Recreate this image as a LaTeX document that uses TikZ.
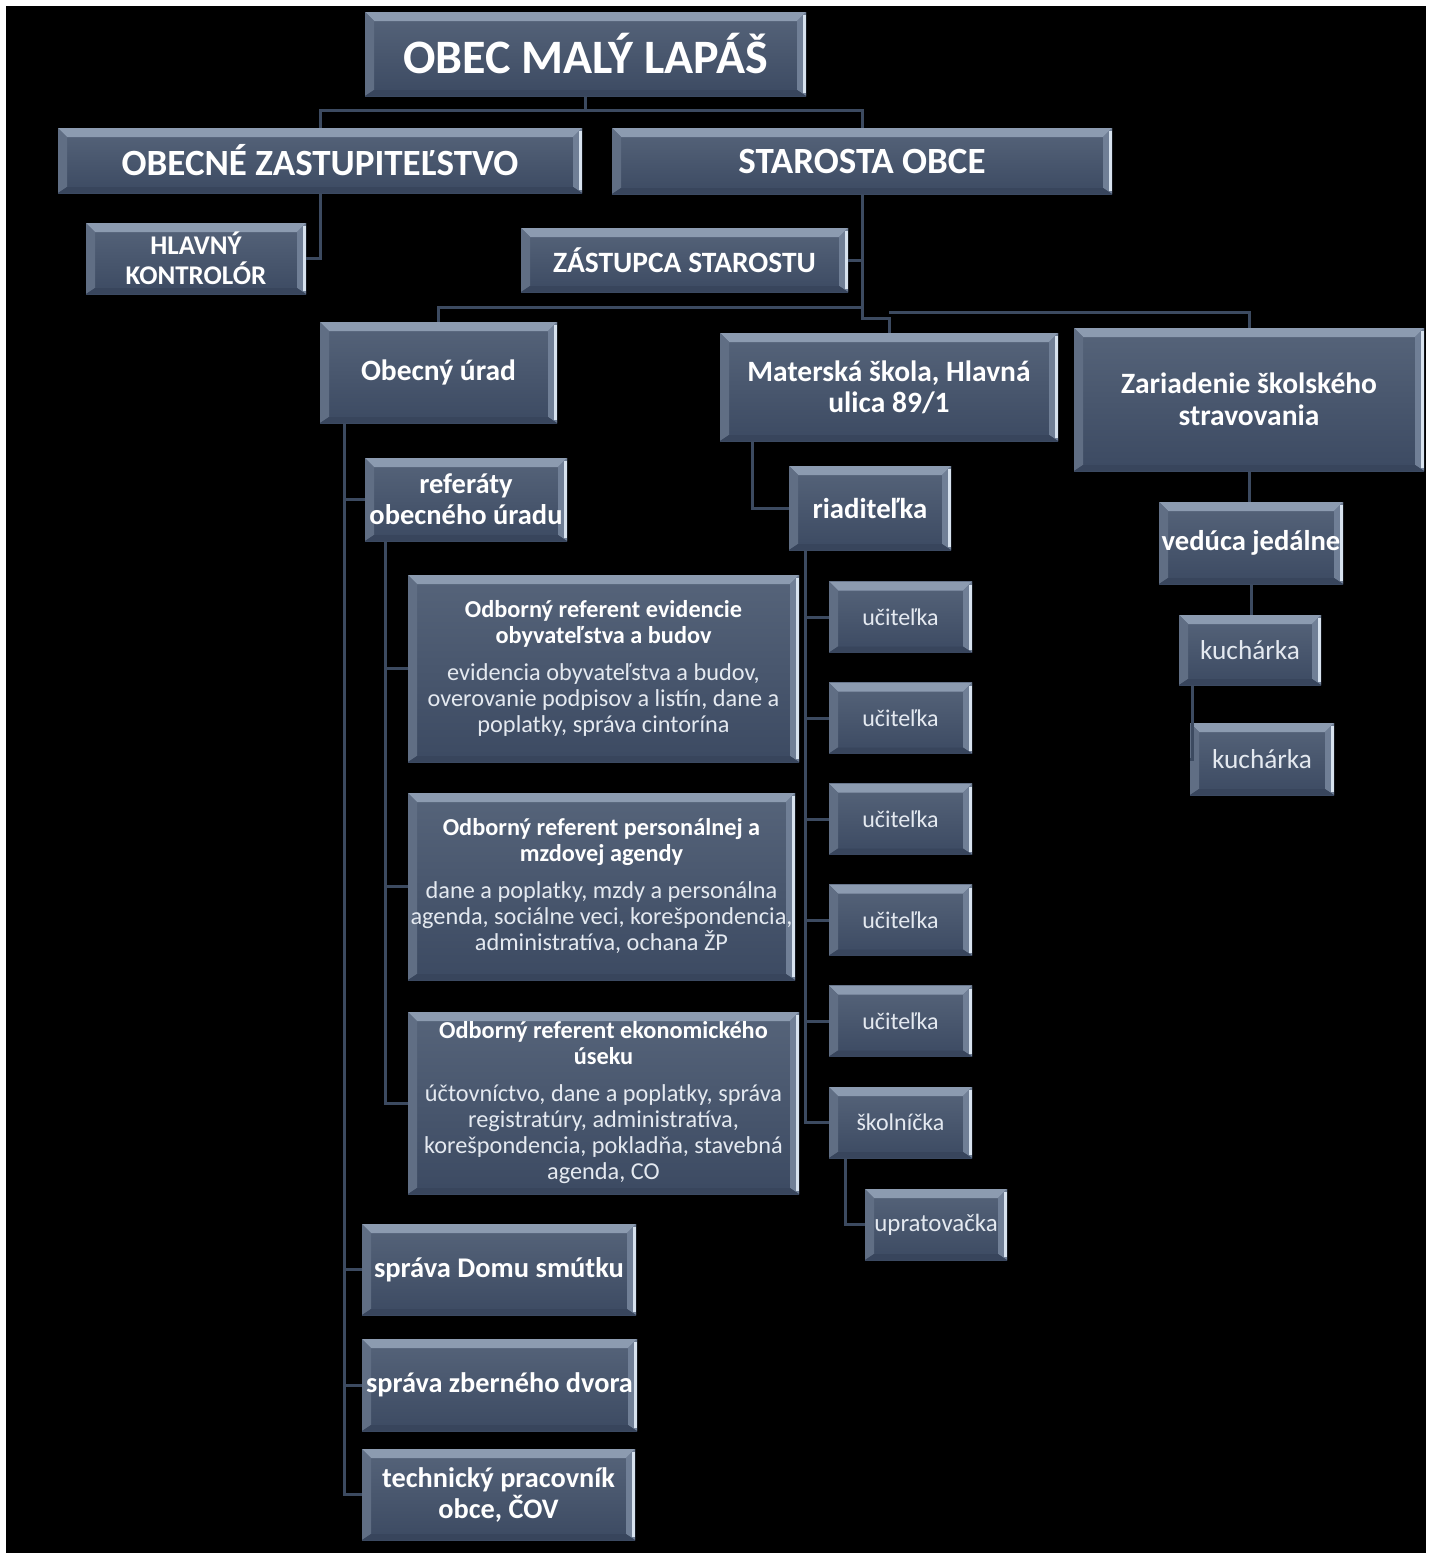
\documentclass[tikz,border=0pt]{standalone}
\usepackage{fontspec}
\setmainfont{Carlito}
\usetikzlibrary{calc}

\definecolor{boxtop}{RGB}{86,100,122}
\definecolor{boxbot}{RGB}{60,74,98}
\definecolor{bevtop}{RGB}{140,155,176}
\definecolor{bevleft}{RGB}{96,110,132}
\definecolor{bevright}{RGB}{112,127,150}
\definecolor{bevbot}{RGB}{56,69,92}
\definecolor{edgelight}{RGB}{215,226,238}
\definecolor{linecol}{RGB}{60,74,96}
\definecolor{softwhite}{RGB}{228,233,240}

\tikzset{
  bevel/.style={path picture={
    \coordinate (bnw) at (path picture bounding box.north west);
    \coordinate (bne) at (path picture bounding box.north east);
    \coordinate (bsw) at (path picture bounding box.south west);
    \coordinate (bse) at (path picture bounding box.south east);
    \fill[bevtop] (bnw) -- (bne) -- ([shift={(-9pt,-9pt)}]bne) -- ([shift={(9pt,-9pt)}]bnw) -- cycle;
    \fill[bevleft] (bnw) -- ([shift={(9pt,-9pt)}]bnw) -- ([shift={(9pt,6pt)}]bsw) -- (bsw) -- cycle;
    \fill[bevright] (bne) -- (bse) -- ([shift={(-9pt,6pt)}]bse) -- ([shift={(-9pt,-9pt)}]bne) -- cycle;
    \fill[bevbot] (bsw) -- ([shift={(9pt,6pt)}]bsw) -- ([shift={(-9pt,6pt)}]bse) -- (bse) -- cycle;
    \draw[edgelight, line width=2.5pt] ([shift={(-1.5pt,-3pt)}]bne) -- ([shift={(-1.5pt,3pt)}]bse);
  }},
  orgbox/.style={inner sep=0pt, align=center, text=white, top color=boxtop, bottom color=boxbot, bevel},
  boldtxt/.style 2 args={font=\bfseries\fontsize{#1}{#2}\selectfont},
  plaintxt/.style 2 args={font=\fontsize{#1}{#2}\selectfont, text=softwhite},
  reftxt/.style={font=\fontsize{24.3}{26}\selectfont},
  conn/.style={draw=linecol, line width=3pt}
}
\newcommand{\refbody}[1]{\textcolor{softwhite}{#1}}

\begin{document}
\begin{tikzpicture}[x=1pt, y=-1pt]
  \useasboundingbox (0,0) rectangle (1435,1553);
  \fill[white] (0,0) rectangle (1435,1553);
  \fill[black] (6,6) rectangle (1426,1553);

  % top levels
  \node[orgbox, boldtxt={48}{57}, minimum width=441pt, minimum height=84pt] (obec) at (585.5,54) {OBEC MALÝ LAPÁŠ};
  \node[orgbox, boldtxt={37}{44}, minimum width=524pt, minimum height=65pt] (zastup) at (320,160.5) {OBECNÉ ZASTUPITEĽSTVO};
  \node[orgbox, boldtxt={37}{44}, minimum width=500pt, minimum height=66pt] (starosta) at (862,161) {STAROSTA OBCE};
  \node[orgbox, boldtxt={27}{30}, minimum width=220pt, minimum height=71pt] (kontrolor) at (196,258.5) {HLAVNÝ\\KONTROLÓR};
  \node[orgbox, boldtxt={29.5}{35}, minimum width=327pt, minimum height=64pt] (zastupca) at (684.5,260) {ZÁSTUPCA STAROSTU};

  % second level
  \node[orgbox, boldtxt={29.5}{31}, minimum width=237pt, minimum height=101pt] (urad) at (438.5,372.5) {Obecný úrad};
  \node[orgbox, boldtxt={29.5}{31}, minimum width=338pt, minimum height=108pt] (materska) at (889,387) {Materská škola, Hlavná\\ulica 89/1};
  \node[orgbox, boldtxt={29.5}{32}, minimum width=350pt, minimum height=143pt] (zariadenie) at (1249,399.5) {Zariadenie školského\\stravovania};

  % obecny urad
  \node[orgbox, boldtxt={28.5}{31}, minimum width=202pt, minimum height=83pt] (referaty) at (466,499.5) {referáty\\obecného úradu};
  \node[orgbox, reftxt, minimum width=391pt, minimum height=187pt] (ref1) at (603.5,668.5)
    {\textbf{Odborný referent evidencie}\\\textbf{obyvateľstva a budov}\\[11pt]
     \refbody{evidencia obyvateľstva a budov,}\\\refbody{overovanie podpisov a listín, dane a}\\\refbody{poplatky, správa cintorína}};
  \node[orgbox, reftxt, minimum width=387pt, minimum height=187pt] (ref2) at (601.5,886.5)
    {\textbf{Odborný referent personálnej a}\\\textbf{mzdovej agendy}\\[11pt]
     \refbody{dane a poplatky, mzdy a personálna}\\\refbody{agenda, sociálne veci, korešpondencia,}\\\refbody{administratíva, ochana ŽP}};
  \node[orgbox, reftxt, minimum width=391pt, minimum height=182pt] (ref3) at (603.5,1103)
    {\textbf{Odborný referent ekonomického}\\\textbf{úseku}\\[11pt]
     \refbody{účtovníctvo, dane a poplatky, správa}\\\refbody{registratúry, administratíva,}\\\refbody{korešpondencia, pokladňa, stavebná}\\\refbody{agenda, CO}};
  \node[orgbox, boldtxt={28.5}{31}, minimum width=274pt, minimum height=91pt] (smutok) at (499,1269.5) {správa Domu smútku};
  \node[orgbox, boldtxt={28.3}{31}, minimum width=275pt, minimum height=92pt] (dvor) at (499.5,1385) {správa zberného dvora};
  \node[orgbox, boldtxt={28.3}{31}, minimum width=273pt, minimum height=91pt] (technik) at (498.5,1494.5) {technický pracovník\\obce, ČOV};

  % materska skola
  \node[orgbox, boldtxt={28.8}{31}, minimum width=162pt, minimum height=84pt] (riaditelka) at (870,508) {riaditeľka};
  \foreach \i/\yy in {1/617, 2/718, 3/819, 4/920, 5/1021}
    \node[orgbox, plaintxt={24}{28}, minimum width=143pt, minimum height=71pt] (ucitelka\i) at (900.5,\yy) {učiteľka};
  \node[orgbox, plaintxt={24}{28}, minimum width=143pt, minimum height=71pt] (skolnicka) at (900.5,1122.5) {školníčka};
  \node[orgbox, plaintxt={24.9}{28}, minimum width=142pt, minimum height=71pt] (upratovacka) at (936,1224.5) {upratovačka};

  % jedalen
  \node[orgbox, boldtxt={28.6}{31}, minimum width=184pt, minimum height=82pt] (veduca) at (1251,543) {vedúca jedálne};
  \node[orgbox, plaintxt={27.3}{31}, minimum width=142pt, minimum height=70pt] (kucharka1) at (1250,650) {kuchárka};
  \node[orgbox, plaintxt={27.3}{31}, minimum width=144pt, minimum height=72pt] (kucharka2) at (1262,759) {kuchárka};

  % connectors
  \draw[conn] (obec.south) -- ++(0,14) coordinate (topbus);
  \draw[conn] (zastup.north) |- (topbus) -| (starosta.north);
  \draw[conn] (zastup.south) |- (kontrolor.east);
  \draw[conn] (starosta.south) |- (zastupca.east);
  \draw[conn] (starosta.south) -- ++(0,124) -| (materska.north);
  \draw[conn] (urad.north) |- ($(starosta.south)+(0,113)$);
  \draw[conn] ($(materska.north)+(0,-20)$) -| (zariadenie.north);

  \foreach \n in {referaty, smutok, dvor, technik}
    \draw[conn] ([xshift=25pt]urad.south west) |- (\n.west);
  \foreach \n in {ref1, ref2, ref3}
    \draw[conn] ([xshift=21pt]referaty.south west) |- (\n.west);

  \draw[conn] ([xshift=33pt]materska.south west) |- (riaditelka.west);
  \foreach \n in {ucitelka1, ucitelka2, ucitelka3, ucitelka4, ucitelka5, skolnicka}
    \draw[conn] ([xshift=17pt]riaditelka.south west) |- (\n.west);
  \draw[conn] ([xshift=17pt]skolnicka.south west) |- (upratovacka.west);

  \draw[conn] (zariadenie.south) -- (zariadenie.south |- veduca.north);
  \draw[conn] (veduca.south) -- (veduca.south |- kucharka1.north);
  \draw[conn] ([xshift=14pt]kucharka1.south west) |- (kucharka2.west);
\end{tikzpicture}
\end{document}
